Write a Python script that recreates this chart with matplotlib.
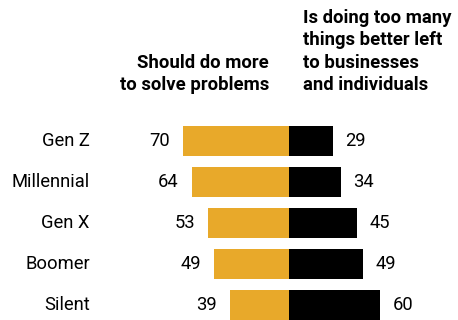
import matplotlib
matplotlib.use("Agg")
import matplotlib.pyplot as plt

generations = ["Gen Z", "Millennial", "Gen X", "Boomer", "Silent"]
do_more = [70, 64, 53, 49, 39]
too_many = [29, 34, 45, 49, 60]

header_left = "Should do more\nto solve problems"
header_right = "Is doing too many\nthings better left\nto businesses\nand individuals"

gold = "#E8A92A"
plt.rcParams["font.family"] = ["Roboto", "DejaVu Sans"]

fig = plt.figure(figsize=(4.58, 3.2), dpi=100)
ax = fig.add_axes([0, 0, 1, 1])
ax.axis("off")

# ~1.52 px per percentage point, zero line at x=289px
ax.set_xlim(-190.1, 111.2)
ax.set_ylim(4.37, -3.44)

ypos = list(range(len(generations)))
ax.barh(ypos, [-v for v in do_more], height=0.73, color=gold)
ax.barh(ypos, too_many, height=0.73, color="black")

for y, name, l, r in zip(ypos, generations, do_more, too_many):
    ax.text(-131, y, name, ha="right", va="center", fontsize=13.2)
    ax.text(-l - 8.5, y, str(l), ha="right", va="center", fontsize=13.2)
    ax.text(r + 8, y, str(r), ha="left", va="center", fontsize=13.2)

ax.text(-13.2, -1.25, header_left, ha="right", va="baseline", fontsize=13.3,
        fontweight="bold", linespacing=1.3)
ax.text(9.2, -1.25, header_right, ha="left", va="baseline", fontsize=13.3,
        fontweight="bold", linespacing=1.3)

fig.savefig("out.png", dpi=100)
